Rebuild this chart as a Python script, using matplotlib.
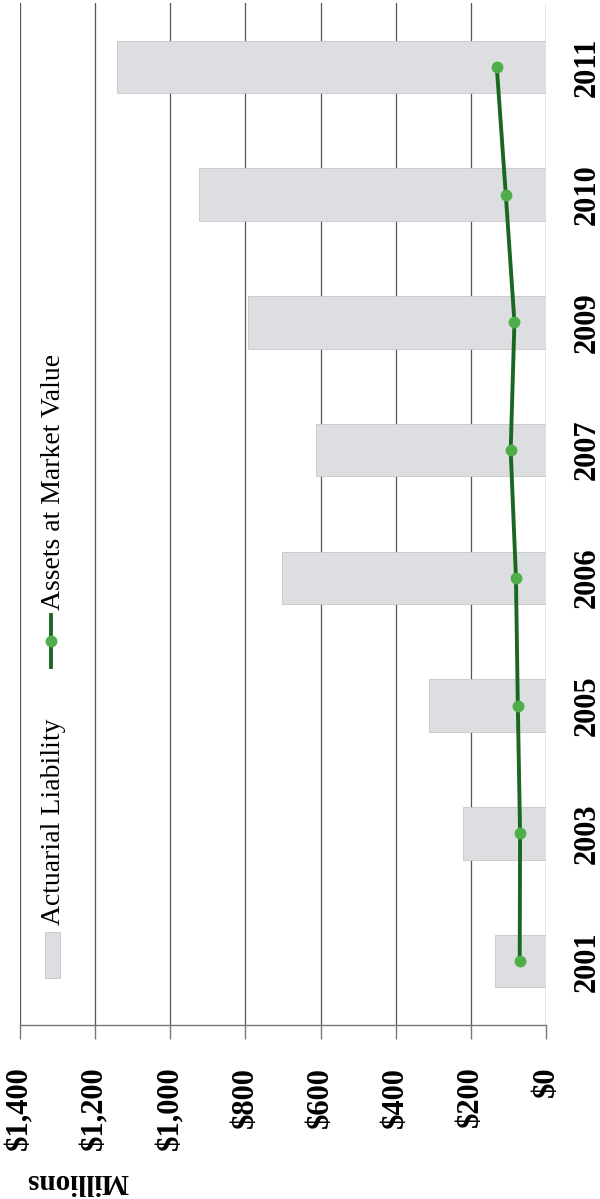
import matplotlib
matplotlib.use('Agg')
import matplotlib.pyplot as plt
from matplotlib.patches import Rectangle
import numpy as np

plt.rcParams['font.family'] = ['Liberation Serif', 'DejaVu Serif']

years = ['2001', '2003', '2005', '2006', '2007', '2009', '2010', '2011']
liability = [137, 220, 311, 703, 613, 792, 923, 1141]
assets = [70, 69, 75, 80, 94, 84, 107, 131]
value_ticks = [0, 200, 400, 600, 800, 1000, 1200, 1400]
value_labels = ['\\$0', '\\$200', '\\$400', '\\$600', '\\$800',
                '\\$1,000', '\\$1,200', '\\$1,400']

bar_color = '#dddee1'
line_color = '#1b6620'
marker_color = '#4fae4a'

fig = plt.figure(figsize=(6, 11.99), dpi=100)
# the whole chart is turned 90 degrees: values run right-to-left, years bottom-to-top
ax = fig.add_axes([20 / 600, 174 / 1199, 526 / 600, 1022 / 1199])

pos = np.arange(len(years))
ax.barh(pos, liability, height=0.41, color=bar_color, edgecolor='#c6c6c6',
        linewidth=0.6, zorder=2)
ax.plot(assets, pos, color=line_color, lw=2.8, marker='o', ms=7.5,
        mfc=marker_color, mec=marker_color, zorder=3)

ax.set_xlim(1400, 0)
ax.set_ylim(-0.5, 7.5)

ax.set_xticks(value_ticks)
ax.set_xticklabels(value_labels, rotation=90, fontsize=22, fontweight='bold')
ax.xaxis.grid(True, color='#555555', lw=0.9, zorder=0)
ax.set_axisbelow(True)
ax.tick_params(axis='x', direction='out', length=10, width=1, color='#777777', pad=20)

ax.yaxis.tick_right()
ax.set_yticks(pos)
ax.set_yticklabels(years, rotation=90, fontsize=22, fontweight='bold', va='center')
ax.tick_params(axis='y', length=0, pad=19)

for side in ['top', 'left', 'right']:
    ax.spines[side].set_visible(False)
ax.spines['bottom'].set_color('#777777')
ax.spines['bottom'].set_linewidth(1)

# legend, drawn by hand so it can be turned with the rest
ax.add_patch(Rectangle((0.0475, 0.046), 0.0285, 0.045, transform=ax.transAxes,
                       facecolor=bar_color, edgecolor='#c6c6c6', lw=0.6, clip_on=False))
ax.text(0.0646, 0.098, 'Actuarial Liability', transform=ax.transAxes, rotation=90,
        ha='center', va='bottom', fontsize=20)
ax.plot([0.0584, 0.0584], [0.350, 0.401], transform=ax.transAxes, color=line_color,
        lw=2.8, clip_on=False)
ax.plot([0.0584], [0.3757], transform=ax.transAxes, marker='o', ms=7.5,
        mfc=marker_color, mec=marker_color, clip_on=False)
ax.text(0.0646, 0.406, 'Assets at Market Value', transform=ax.transAxes, rotation=90,
        ha='center', va='bottom', fontsize=20)

fig.text(77.5 / 600, 1 - 1181 / 1199, 'Millions', rotation=180, ha='center',
         va='center', fontsize=21, fontweight='bold')

fig.savefig('out.png', dpi=100)
